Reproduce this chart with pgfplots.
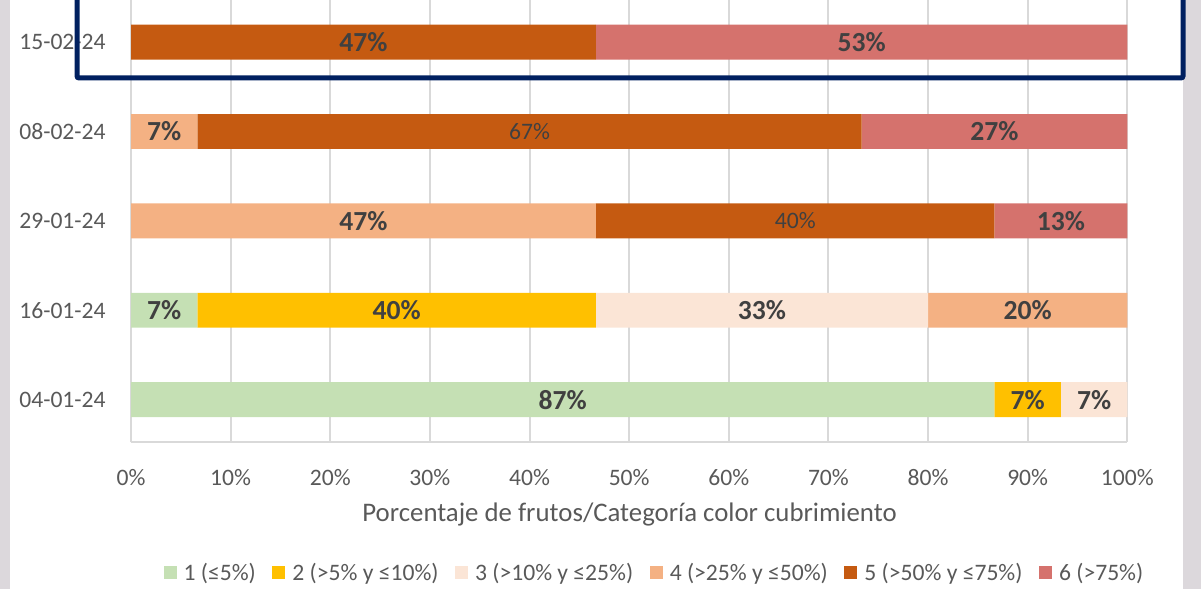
\documentclass[border=0pt]{standalone}
\usepackage{pgfplots}
\pgfplotsset{compat=1.18}
\usepackage{pgfplotstable}
\usepackage{fontspec}
\setmainfont{Carlito}
\definecolor{c1}{HTML}{C5E0B4}
\definecolor{c2}{HTML}{FFC000}
\definecolor{c3}{HTML}{FBE5D6}
\definecolor{c4}{HTML}{F4B183}
\definecolor{c5}{HTML}{C55A11}
\definecolor{c6}{HTML}{D5726D}
\definecolor{gridgrey}{HTML}{D9D9D9}
\definecolor{ticktext}{HTML}{595959}
\definecolor{labtext}{HTML}{404040}
\definecolor{navy}{HTML}{002060}
\definecolor{sidegrey}{HTML}{DCD8DC}

\pgfplotstableread{
cat c1 c2 c3 c4 c5 c6 l1 l2 l3 l4 l5 l6 m5
0 86.67 6.67 6.67 0 0 0 87\% 7\% 7\% {} {} {} {}
1 6.67 40 33.33 20 0 0 7\% 40\% 33\% 20\% {} {} {}
2 0 0 0 46.67 40 13.33 {} {} {} 47\% {} 13\% 40\%
3 0 0 0 6.67 66.67 26.67 {} {} {} 7\% {} 27\% 67\%
4 0 0 0 0 46.67 53.33 {} {} {} {} 47\% 53\% {}
}\data

\pgfplotsset{
  common/.style={
    at={(65.5pt,73.35pt)}, anchor=south west,
    scale only axis, width=498.15pt, height=221.15pt,
    xmin=0, xmax=100, ymin=-0.477, ymax=4.472,
  }
}

\begin{document}
\begin{tikzpicture}
\useasboundingbox (0pt,0pt) rectangle (600.5pt,294.5pt);
\fill[sidegrey] (0pt,0pt) rectangle (5pt,294.5pt);
\fill[sidegrey] (591.35pt,0pt) rectangle (600.5pt,294.5pt);
\begin{axis}[
  common,
  xbar stacked, bar width=0.39,
  xtick={0,10,...,100},
  xticklabels={0\%,10\%,20\%,30\%,40\%,50\%,60\%,70\%,80\%,90\%,100\%},
  ytick={0,1,2,3,4},
  yticklabels={04-01-24,16-01-24,29-01-24,08-02-24,15-02-24},
  major tick length=0pt,
  xmajorgrids, grid style={gridgrey, line width=1pt},
  axis x line*=bottom, axis y line*=left,
  x axis line style={gridgrey, line width=1pt, -},
  y axis line style={draw=none},
  tick label style={font=\fontsize{11.8pt}{14pt}\selectfont, text=ticktext, inner sep=0pt},
  xticklabel style={yshift=-13.5pt},
  yticklabel style={xshift=-12.5pt},
  xlabel={Porcentaje de frutos/Categoría color cubrimiento},
  xlabel style={at={(axis description cs:0.5004,-0.18)}, anchor=base, font=\fontsize{13.4pt}{16pt}\selectfont, text=ticktext, inner sep=0pt},
  legend columns=6,
  legend style={at={(axis description cs:0.5264,-0.2955)}, anchor=center, draw=none, fill=none, font=\fontsize{11.8pt}{14pt}\selectfont, text=ticktext, /tikz/every even column/.append style={column sep=6.3pt}},
  legend image code/.code={\fill[#1] (0pt,-3.25pt) rectangle (6.5pt,3.25pt); \path (8pt,0pt);},
]
\addplot[fill=c1, draw=none] table[x=c1, y=cat] {\data};
\addplot[fill=c2, draw=none] table[x=c2, y=cat] {\data};
\addplot[fill=c3, draw=none] table[x=c3, y=cat] {\data};
\addplot[fill=c4, draw=none] table[x=c4, y=cat] {\data};
\addplot[fill=c5, draw=none] table[x=c5, y=cat] {\data};
\addplot[fill=c6, draw=none] table[x=c6, y=cat] {\data};
\legend{1 (≤5\%), 2 (>5\% y ≤10\%), 3 (>10\% y ≤25\%), 4 (>25\% y ≤50\%), 5 (>50\% y ≤75\%), 6 (>75\%)}
\end{axis}
\begin{axis}[
  common, hide axis,
  nodes near coords, point meta=explicit symbolic,
  every node near coord/.append style={anchor=center, font=\fontsize{13.8pt}{16pt}\selectfont\bfseries, text=labtext, inner sep=0pt},
]
\addplot[draw=none] table[x expr=\thisrow{c1}/2, y=cat, meta=l1] {\data};
\addplot[draw=none] table[x expr=\thisrow{c1}+\thisrow{c2}/2, y=cat, meta=l2] {\data};
\addplot[draw=none] table[x expr=\thisrow{c1}+\thisrow{c2}+\thisrow{c3}/2, y=cat, meta=l3] {\data};
\addplot[draw=none] table[x expr=\thisrow{c1}+\thisrow{c2}+\thisrow{c3}+\thisrow{c4}/2, y=cat, meta=l4] {\data};
\addplot[draw=none] table[x expr=\thisrow{c1}+\thisrow{c2}+\thisrow{c3}+\thisrow{c4}+\thisrow{c5}/2, y=cat, meta=l5] {\data};
\addplot[draw=none] table[x expr=\thisrow{c1}+\thisrow{c2}+\thisrow{c3}+\thisrow{c4}+\thisrow{c5}+\thisrow{c6}/2, y=cat, meta=l6] {\data};
\addplot[draw=none, every node near coord/.append style={font=\fontsize{11.8pt}{14pt}\selectfont\mdseries}] table[x expr=\thisrow{c1}+\thisrow{c2}+\thisrow{c3}+\thisrow{c4}+\thisrow{c5}/2, y=cat, meta=m5] {\data};
\end{axis}
\draw[navy, line width=2.5pt, rounded corners=1pt] (38.5pt,300pt) -- (38.5pt,255.5pt) -- (591.5pt,255.5pt) -- (591.5pt,300pt);
\end{tikzpicture}
\end{document}
